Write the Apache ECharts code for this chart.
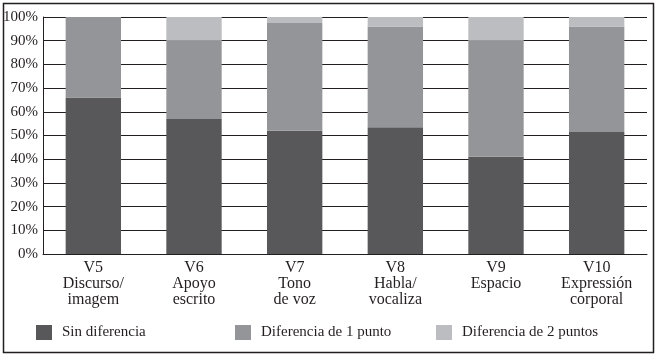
<!DOCTYPE html>
<html>
<head>
<meta charset="utf-8">
<script src="https://cdn.jsdelivr.net/npm/echarts@6/dist/echarts.min.js"></script>
<style>
  html, body { margin: 0; padding: 0; background: #fff; }
  #chart { width: 660px; height: 357px; }
</style>
</head>
<body>
<div id="chart"></div>
<script>
    // categorías (variable + descripción)
    var categories = ['V5\nDiscurso/\nimagem', 'V6\nApoyo\nescrito', 'V7\nTono\nde voz',
        'V8\nHabla/\nvocaliza', 'V9\nEspacio', 'V10\nExpressión\ncorporal'];
    var seriesNames = ['Sin diferencia', 'Diferencia de 1 punto', 'Diferencia de 2 puntos'];
    // porcentajes
    var sinDiferencia = [66, 57, 52, 53.5, 41, 51.5];
    var diferencia1 = [34, 33, 45.5, 42.5, 49, 44.5];
    var diferencia2 = [0, 10, 2.5, 4, 10, 4];
    var yTicks = [0, 10, 20, 30, 40, 50, 60, 70, 80, 90, 100];

    var font = '"Liberation Serif", "DejaVu Serif", serif';
    var textColor = '#231f20';
    var colors = ['#58585a', '#949598', '#bcbdc0'];

    var chart = echarts.init(document.getElementById('chart'));

    function makeLegend(name, left) {
        return {
            data: [name],
            left: left,
            top: 320,
            itemWidth: 16,
            itemHeight: 15,
            itemGap: 0,
            icon: 'rect',
            textStyle: { fontFamily: font, fontSize: 15, color: textColor, padding: [0, 0, 0, 5] }
        };
    }

    var option = {
        animation: false,
        color: colors,
        textStyle: { fontFamily: font },
        graphic: [{
            type: 'rect',
            shape: { x: 3.5, y: 3.5, width: 650, height: 349 },
            style: { fill: 'none', stroke: '#231f20', lineWidth: 1.5 },
            silent: true
        }],
        legend: [
            makeLegend(seriesNames[0], 31),
            makeLegend(seriesNames[1], 230),
            makeLegend(seriesNames[2], 431)
        ],
        grid: { left: 43, right: 13, top: 17, bottom: 103 },
        xAxis: {
            type: 'category',
            data: categories,
            axisLine: { lineStyle: { color: '#231f20', width: 1 } },
            axisTick: { show: false },
            axisLabel: {
                margin: 6,
                fontFamily: font,
                fontSize: 16,
                lineHeight: 16,
                color: textColor,
                interval: 0
            }
        },
        yAxis: {
            type: 'value',
            min: yTicks[0],
            max: yTicks[yTicks.length - 1],
            interval: 10,
            axisLine: { show: true, lineStyle: { color: '#231f20', width: 1 } },
            axisTick: { show: false },
            axisLabel: {
                formatter: '{value}%',
                margin: 5,
                fontFamily: font,
                fontSize: 15,
                color: textColor
            },
            splitLine: { lineStyle: { color: '#231f20', width: 1 } }
        },
        series: [
            { name: seriesNames[0], type: 'bar', stack: 'total', barWidth: '55%', data: sinDiferencia },
            { name: seriesNames[1], type: 'bar', stack: 'total', barWidth: '55%', data: diferencia1 },
            { name: seriesNames[2], type: 'bar', stack: 'total', barWidth: '55%', data: diferencia2 }
        ]
    };

    chart.setOption(option);
</script>
</body>
</html>
